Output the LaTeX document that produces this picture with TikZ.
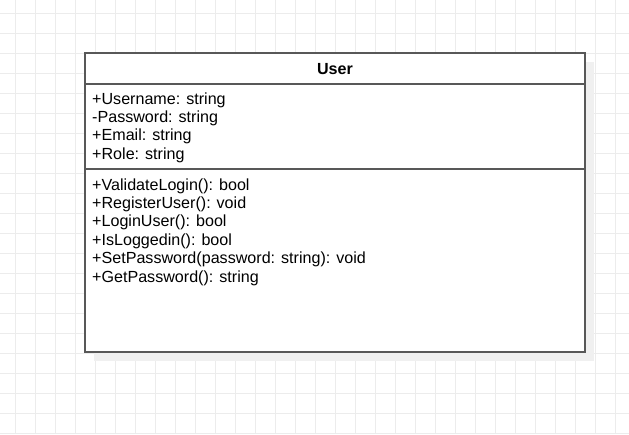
\documentclass[tikz,border=0pt]{standalone}
\usepackage{fontspec}
\setmainfont{Liberation Sans}
\usepackage{tikz}
\definecolor{gridgray}{RGB}{236,236,236}
\definecolor{shadowgray}{RGB}{240,240,240}
\definecolor{boxline}{RGB}{88,88,88}

\begin{document}
\begin{tikzpicture}[x=1pt,y=-1pt]
    \tikzstyle{member}=[anchor=base west, inner sep=0pt, font=\fontsize{16.1}{18.4}\selectfont]
    \tikzstyle{gridline}=[gridgray, line width=1pt]
    \useasboundingbox (0,0) rectangle (629,434);
    \fill[white] (0,0) rectangle (629,434);
    \foreach \gx in {15,35,...,615} \draw[gridline] (\gx,0) -- (\gx,434);
    \foreach \gy in {13,33,...,433} \draw[gridline] (0,\gy) -- (629,\gy);
    \fill[shadowgray] (94,62) rectangle (594,361);
    \node[draw=boxline, fill=white, line width=1.8pt, minimum width=500, minimum height=299, inner sep=0pt] (cls) at (335,202.5) {};
    \coordinate (h1) at (85,84);
    \coordinate (h2) at (585,84);
    \coordinate (s1) at (85,169);
    \coordinate (s2) at (585,169);
    \draw[boxline, line width=1.3pt] (h1) -- (h2);
    \draw[boxline, line width=1.3pt] (s1) -- (s2);
    \node[anchor=base, inner sep=0pt, font=\fontsize{16.1}{18.4}\selectfont\bfseries] (name) at (335,74) {User};
    \node[member] (uname) at (92,104) {+Username: string};
    \node[member] (pwd) at (92,122.4) {-Password: string};
    \node[member] (email) at (92,140.8) {+Email: string};
    \node[member] (role) at (92,159.2) {+Role: string};
    \node[member] (valid) at (92,190) {+ValidateLogin(): bool};
    \node[member] (reg) at (92,208.4) {+RegisterUser(): void};
    \node[member] (login) at (92,226.8) {+LoginUser(): bool};
    \node[member] (islog) at (92,245.2) {+IsLoggedin(): bool};
    \node[member] (setpw) at (92,263.6) {+SetPassword(password: string): void};
    \node[member] (getpw) at (92,282) {+GetPassword(): string};
\end{tikzpicture}
\end{document}
